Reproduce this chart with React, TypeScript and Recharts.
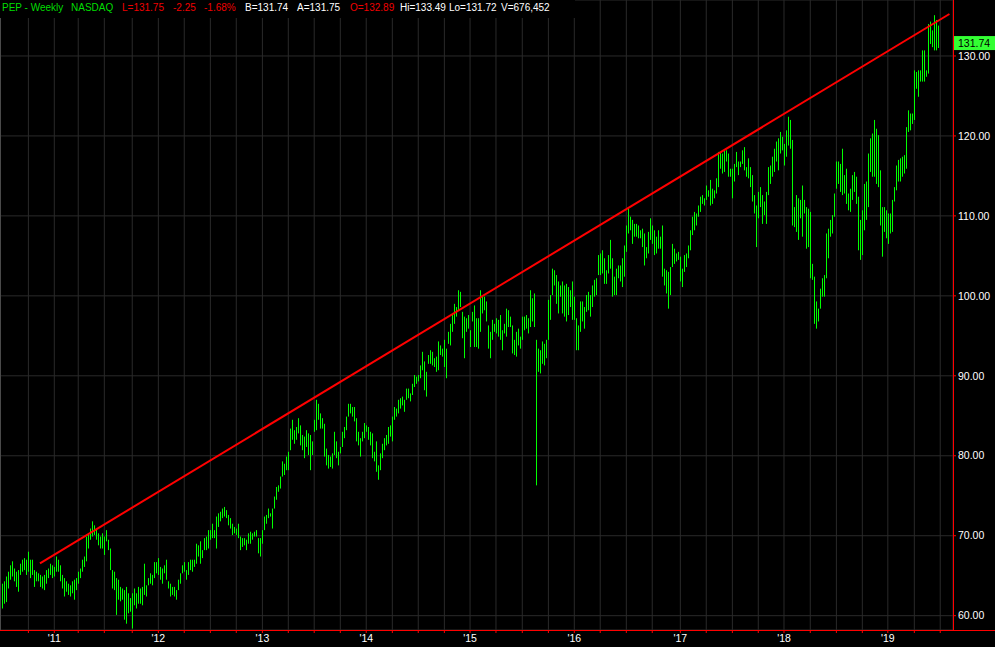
import React from 'react';
import { ComposedChart, Bar, XAxis, YAxis, CartesianGrid, ReferenceLine } from 'recharts';

const BAR_COLOR = '#00ff00';
const AXIS_RED = '#ff0000';
const FONT = 'Arial, "Liberation Sans", sans-serif';

// weekly [high, low], split by period
const segA: [number, number][] = [
  [64.0, 60.9], [64.3, 61.5], [64.9, 61.7], [65.5, 63.4], [66.3, 64.5], [66.8, 64.9], [65.9, 64.3], [65.5, 63.6],
  [65.7, 63.0], [66.5, 65.1], [67.0, 65.5], [67.2, 65.7], [67.0, 65.1], [68.0, 65.5], [67.0, 64.7], [67.0, 65.1],
  [65.7, 63.6], [65.5, 64.3], [65.3, 64.3], [65.1, 63.6], [64.9, 63.4], [65.1, 63.2], [65.7, 64.0], [65.9, 64.7],
  [66.5, 65.1], [66.3, 64.7], [66.1, 64.9], [67.4, 65.5], [67.0, 65.5], [66.3, 64.3], [65.1, 63.4], [64.7, 62.4],
  [64.3, 63.0], [64.0, 62.6], [63.8, 62.4], [64.3, 62.8], [64.5, 62.0], [64.7, 63.2], [65.5, 64.0], [65.9, 64.7],
  [67.0, 65.5], [67.4, 66.1], [69.9, 66.8], [70.3, 68.4], [70.9, 69.5], [71.8, 69.9], [71.3, 70.1], [70.9, 69.5],
  [70.3, 68.8], [69.9, 68.4], [70.3, 68.4], [69.9, 67.6], [70.7, 69.3], [69.5, 68.2], [68.4, 65.7], [65.7, 63.4],
  [65.5, 63.2], [64.7, 60.1], [64.5, 62.0], [63.6, 61.8], [63.4, 62.0], [63.2, 59.5],
];

const segB: [number, number][] = [
  [63.6, 59.0], [62.8, 60.3], [62.2, 60.5], [62.8, 58.4], [63.4, 61.3], [62.8, 60.9], [63.6, 61.5], [63.4, 61.5],
  [63.6, 61.3], [66.5, 62.6], [63.8, 62.4], [64.7, 63.8], [65.3, 64.0], [65.1, 63.8], [66.7, 64.7], [66.7, 65.3],
  [67.2, 65.1], [66.1, 64.5], [65.9, 64.0], [66.3, 65.3], [67.0, 64.5], [64.3, 63.4], [64.0, 62.4], [63.6, 62.6],
  [63.6, 62.4], [63.2, 62.0], [64.5, 63.2], [65.3, 64.0], [66.3, 65.3], [66.7, 65.5], [65.7, 64.5], [66.7, 65.1],
  [67.0, 65.7], [67.0, 65.5], [67.0, 66.1], [69.0, 66.5], [68.8, 67.4], [69.3, 66.5], [68.2, 67.2], [69.7, 68.2],
  [69.9, 68.2], [70.7, 68.4], [70.7, 69.5], [71.5, 69.7], [70.7, 69.7], [72.4, 68.4], [72.8, 71.1], [73.0, 71.8],
  [73.4, 72.2], [73.6, 72.4], [73.2, 72.2], [72.6, 71.3], [72.2, 70.9], [71.5, 70.1], [70.9, 70.1], [71.1, 70.3],
  [70.9, 70.1], [71.5, 69.7], [69.9, 68.2], [69.7, 68.6],
];

const segC: [number, number][] = [
  [69.7, 68.8], [69.5, 68.2], [70.3, 69.0], [70.5, 69.0], [70.3, 69.5], [70.5, 69.9], [70.7, 69.9], [69.7, 67.8],
  [69.7, 67.4], [70.7, 69.0], [72.4, 70.7], [72.6, 71.5], [73.4, 72.2], [72.8, 72.4], [73.4, 70.9], [74.9, 73.4],
  [76.1, 74.5], [76.3, 75.5], [77.4, 75.9], [79.3, 77.4], [79.0, 77.6], [79.9, 78.2], [80.5, 78.2], [83.4, 80.7],
  [84.5, 82.0], [83.2, 81.5], [83.6, 82.0], [84.7, 82.8], [83.8, 81.3], [82.6, 80.7], [82.4, 79.7], [83.2, 81.1],
  [82.8, 80.1], [82.6, 78.2], [81.8, 80.1], [84.5, 83.0], [87.0, 83.2], [86.5, 84.5], [85.3, 83.4], [84.7, 83.4],
  [84.0, 79.9], [80.9, 78.8], [80.1, 78.4], [79.9, 78.6], [80.3, 78.4], [83.0, 80.1], [81.8, 79.7], [80.5, 78.8],
  [81.1, 80.3], [83.0, 81.1], [83.6, 82.2], [84.9, 83.2], [86.5, 84.9], [86.5, 85.3], [86.1, 84.9], [86.1, 84.3],
  [84.7, 81.8], [83.0, 81.3], [82.2, 79.9], [83.0, 81.8],
];

const segD: [number, number][] = [
  [84.1, 82.2], [83.8, 83.0], [83.6, 82.0], [83.0, 81.3], [82.8, 79.7], [80.5, 79.3], [81.8, 78.0], [78.8, 77.0],
  [80.3, 78.2], [81.5, 79.7], [82.2, 80.7], [82.6, 81.3], [83.6, 81.5], [83.8, 82.4], [84.9, 81.8], [86.1, 84.5],
  [85.9, 84.9], [87.0, 85.3], [87.2, 85.9], [87.4, 86.3], [87.0, 85.5], [88.4, 87.0], [88.4, 87.2], [87.8, 86.8],
  [89.0, 87.6], [90.1, 88.6], [89.9, 89.0], [90.1, 89.3], [91.3, 89.7], [93.0, 90.7], [91.8, 88.2], [90.5, 87.4],
  [92.6, 91.5], [93.2, 91.5], [93.0, 91.3], [92.2, 91.1], [92.4, 90.5], [94.3, 90.7], [93.8, 92.6], [93.4, 92.4],
  [94.5, 91.1], [93.4, 89.7], [95.5, 94.0], [96.5, 93.8], [97.8, 95.5], [99.0, 96.5], [98.6, 97.4], [100.7, 98.2],
  [100.5, 98.6], [98.0, 94.7], [97.4, 92.2], [97.2, 95.5], [97.6, 95.9], [95.7, 93.6], [98.0, 96.8], [98.8, 93.6],
  [97.2, 93.6],
];

const segE: [number, number][] = [
  [97.2, 93.4], [100.7, 95.5], [100.1, 97.8], [99.9, 98.2], [99.3, 96.8], [96.3, 93.4], [95.5, 92.2], [97.0, 94.5],
  [96.5, 95.5], [97.2, 95.3], [97.0, 94.9], [97.6, 94.5], [95.7, 93.2], [96.5, 95.3], [98.4, 94.9], [98.2, 96.1],
  [97.4, 96.1], [96.3, 92.8], [94.5, 92.6], [95.5, 92.4], [95.9, 93.8], [94.9, 93.4], [97.4, 94.5], [97.4, 95.7],
  [97.6, 95.9], [97.2, 95.3], [100.7, 96.1], [99.7, 96.8], [100.3, 96.1], [94.5, 76.3], [93.4, 90.5], [93.2, 90.3],
  [94.3, 91.5], [94.0, 91.3], [94.5, 92.2], [99.5, 94.5], [100.1, 97.0], [103.4, 100.1], [103.2, 101.3], [102.6, 99.0],
  [101.8, 97.8], [101.3, 99.9], [101.8, 97.8], [101.3, 97.4], [101.5, 96.8], [101.1, 97.6], [100.7, 98.6], [101.8, 97.0],
  [99.9, 97.0], [97.2, 93.2], [96.3, 93.2], [99.3, 95.5], [99.3, 96.8], [98.6, 95.9], [100.1, 98.0], [100.5, 98.2],
  [100.1, 97.4], [101.3, 98.6], [102.0, 99.9], [102.2, 100.1], [105.1, 102.6],
];

const segF: [number, number][] = [
  [105.3, 102.6], [105.7, 102.8], [104.7, 101.5], [103.2, 101.5], [105.1, 102.8], [107.0, 103.4], [104.7, 99.9], [102.4, 100.1],
  [103.4, 100.1], [103.8, 102.2], [103.8, 101.8], [104.7, 101.1], [106.3, 102.4], [108.8, 105.5], [110.9, 107.8], [109.9, 108.2],
  [109.5, 106.5], [109.0, 107.4], [109.0, 107.4], [108.8, 107.2], [108.2, 107.2], [108.4, 106.1], [107.8, 103.8], [106.1, 104.7],
  [108.0, 105.3], [109.7, 107.0], [108.8, 106.5], [108.2, 105.1], [107.4, 105.3], [108.2, 105.9], [107.4, 105.9], [108.8, 102.4],
  [103.4, 101.3], [103.2, 100.3], [103.0, 98.4], [103.6, 100.1], [106.5, 103.6], [105.9, 104.0], [105.3, 104.3], [105.5, 104.5],
  [104.9, 101.8], [103.4, 101.1], [105.1, 103.0], [105.3, 103.6], [106.3, 104.7], [108.2, 105.7], [109.9, 107.6], [110.5, 108.2],
  [110.3, 108.8], [111.3, 109.9], [112.4, 110.5], [112.6, 111.5], [112.2, 111.3], [113.8, 112.0], [113.2, 112.4], [114.5, 111.3],
  [113.4, 111.5], [113.2, 112.2], [114.7, 112.8],
];

const segG: [number, number][] = [
  [118.0, 113.6], [118.0, 115.9], [117.8, 115.3], [118.2, 115.5], [118.2, 116.8], [117.8, 114.9], [115.9, 114.9], [115.9, 112.2],
  [116.5, 114.3], [118.0, 116.1], [116.8, 115.1], [116.8, 116.1], [118.2, 116.5], [118.6, 115.7], [116.1, 114.9], [117.2, 114.7],
  [116.1, 113.6], [115.1, 111.8], [112.6, 110.3], [111.3, 106.1], [113.0, 109.7], [113.6, 111.1], [112.6, 109.0], [111.8, 110.1],
  [113.0, 109.0], [116.1, 112.6], [116.3, 114.0], [117.4, 114.9], [118.4, 115.5], [119.3, 116.8], [119.7, 115.7], [120.5, 117.8],
  [119.9, 118.2], [119.0, 116.3], [120.7, 117.4], [122.4, 118.8], [122.0, 118.4], [119.5, 108.8], [111.1, 108.6], [112.6, 108.0],
  [112.2, 107.0], [112.0, 109.7], [113.8, 107.4], [112.0, 110.3], [111.1, 105.9], [110.9, 106.1], [109.5, 107.4], [110.5, 102.2],
  [104.0, 102.0], [102.4, 96.5], [99.3, 95.9], [98.4, 96.8], [100.9, 98.4], [102.2, 99.9], [102.6, 99.9], [107.8, 102.2],
  [108.4, 104.7], [109.5, 107.4], [110.1, 107.8], [112.8, 109.9], [116.8, 113.4], [116.8, 114.0], [116.5, 113.0],
];

const segH: [number, number][] = [
  [118.4, 112.6], [115.1, 112.8], [115.9, 111.5], [112.8, 110.7], [113.4, 110.5], [115.1, 112.0], [115.5, 113.0], [114.9, 111.5],
  [112.4, 105.7], [109.5, 104.5], [110.7, 105.1], [114.0, 108.2], [114.3, 109.5], [117.8, 111.1], [119.7, 115.5], [120.3, 114.9],
  [122.0, 114.9], [120.9, 114.0], [120.1, 113.6], [115.7, 108.8], [111.1, 104.9], [111.1, 108.0], [110.7, 107.2], [110.3, 106.5],
  [110.3, 107.8], [112.0, 108.0], [113.6, 111.8], [116.3, 113.2], [117.0, 114.3], [117.2, 114.3], [117.4, 114.9], [117.6, 115.3],
  [121.1, 115.9], [123.2, 120.5], [122.8, 120.7], [122.8, 121.5], [128.2, 122.0], [128.0, 125.9], [128.2, 124.9], [128.2, 126.8],
  [130.7, 126.8], [130.7, 126.8], [128.2, 127.4], [134.0, 127.8], [134.3, 131.5], [133.2, 131.1], [135.1, 130.7], [134.5, 130.7],
  [133.8, 131.0],
];

const lastClose = 131.74;

// trend line endpoints: [week index, price]
const trendStart = { x: 18.9, y: 66.55 };
const trendEnd = { x: 475.2, y: 135.25 };

// quarter grid positions (week index) and year labels
const quarterTicks = [
  13.1, 26.1, 38.1, 51.2, 65.2, 78.3, 91.3, 104.4, 117.4, 130.5, 143.5, 156.5, 169.6, 182.6, 195.7, 208.7,
  221.8, 234.7, 247.7, 260.9, 274.0, 287.0, 300.0, 313.1, 326.1, 340.2, 353.2, 366.3, 379.3, 392.2, 405.4,
  418.5, 431.5, 444.3, 457.6, 470.6,
];
const yearTicks = [26.1, 78.3, 130.5, 182.6, 234.7, 287.0, 340.2, 392.2, 444.3];
const yearLabels = ["'11", "'12", "'13", "'14", "'15", "'16", "'17", "'18", "'19"];
const priceTicks = [60, 70, 80, 90, 100, 110, 120, 130];

const header = [
  { text: 'PEP - Weekly', color: '#00dd00', x: 2 },
  { text: 'NASDAQ', color: '#00dd00', x: 71 },
  { text: 'L=131.75', color: '#ee0000', x: 122 },
  { text: '-2.25', color: '#ee0000', x: 173 },
  { text: '-1.68%', color: '#ee0000', x: 204 },
  { text: 'B=131.74', color: '#ffffff', x: 245 },
  { text: 'A=131.75', color: '#ffffff', x: 297 },
  { text: 'O=132.89', color: '#ee0000', x: 350 },
  { text: 'Hi=133.49', color: '#ffffff', x: 400 },
  { text: 'Lo=131.72', color: '#ffffff', x: 449 },
  { text: 'V=676,452', color: '#ffffff', x: 501 },
];

const allBars = [...segA, ...segB, ...segC, ...segD, ...segE, ...segF, ...segG, ...segH];
const data = allBars.map(([hi, lo], i) => ({ i, range: [lo, hi] }));

const RangeBar = (props: any) => {
  const { x, y, width, height } = props;
  if (x == null || y == null || isNaN(x) || isNaN(y)) return null;
  const top = height < 0 ? y + height : y;
  const h = Math.max(Math.abs(height), 1);
  // keep the 1px bars on even pixel columns so they stay crisp and green
  const centre = x + (width || 0) / 2;
  const cx = 2 * Math.round(centre / 2);
  return <rect x={cx} y={top} width={1} height={h} fill={BAR_COLOR} />;
};

const PriceTag = (props: any) => {
  const vb = props.viewBox || {};
  const x = (vb.x || 0) + (vb.width || 0) + 1;
  const y = vb.y || 0;
  return (
    <g>
      <rect x={x} y={y - 6} width={42} height={14} fill="#33ff33" />
      <text x={x + 4} y={y + 5} fontSize={10.5} fontFamily={FONT} fill="#000">
        {lastClose.toFixed(2)}
      </text>
    </g>
  );
};

export default function App() {
  return (
    <div style={{ position: 'absolute', left: 0, top: 0, width: 995, height: 647, background: '#000', overflow: 'hidden' }}>
      <ComposedChart width={995} height={647} data={data} margin={{ top: 0, right: 0, bottom: 0, left: 0 }}>
        <CartesianGrid stroke="#2a2a2a" />
        <XAxis
          dataKey="i"
          type="number"
          domain={[-1.15, 477]}
          allowDataOverflow
          ticks={quarterTicks}
          interval={0}
          tickFormatter={(v: number) => {
            const k = yearTicks.indexOf(v);
            return k >= 0 ? yearLabels[k] : '';
          }}
          height={17}
          axisLine={false}
          tickLine={{ stroke: AXIS_RED }}
          tickSize={3}
          tick={{ fill: '#ffffff', fontSize: 10.5, fontFamily: FONT }}
        />
        <YAxis
          orientation="right"
          type="number"
          domain={[58.21, 137]}
          allowDataOverflow
          ticks={priceTicks}
          interval={0}
          width={42}
          axisLine={false}
          tickLine={{ stroke: AXIS_RED }}
          tickSize={3}
          tickFormatter={(v: number) => v.toFixed(2)}
          tick={{ fill: '#ffffff', fontSize: 10.5, fontFamily: FONT }}
        />
        <Bar dataKey="range" barSize={1} shape={<RangeBar />} isAnimationActive={false} />
        <ReferenceLine
          segment={[trendStart, trendEnd]}
          stroke="#ff0000"
          strokeWidth={2}
          ifOverflow="visible"
        />
        <ReferenceLine y={lastClose} stroke="none" ifOverflow="visible" label={(p: any) => <PriceTag {...p} />} />
      </ComposedChart>
      {/* frame: red axes and grey left edge */}
      <div style={{ position: 'absolute', left: 0, top: 630, width: 995, height: 1, background: AXIS_RED }} />
      <div style={{ position: 'absolute', left: 953, top: 0, width: 1, height: 631, background: AXIS_RED }} />
      <div style={{ position: 'absolute', left: 0, top: 0, width: 1, height: 630, background: '#4a4a4a' }} />
      <div style={{ position: 'absolute', left: 0, top: 0, width: 575, height: 18, background: '#000' }}>
        {header.map((h) => (
          <span
            key={h.text}
            style={{
              position: 'absolute',
              left: h.x,
              top: 1,
              fontFamily: FONT,
              fontSize: 10,
              lineHeight: '14px',
              color: h.color,
              whiteSpace: 'nowrap',
            }}
          >
            {h.text}
          </span>
        ))}
      </div>
    </div>
  );
}
